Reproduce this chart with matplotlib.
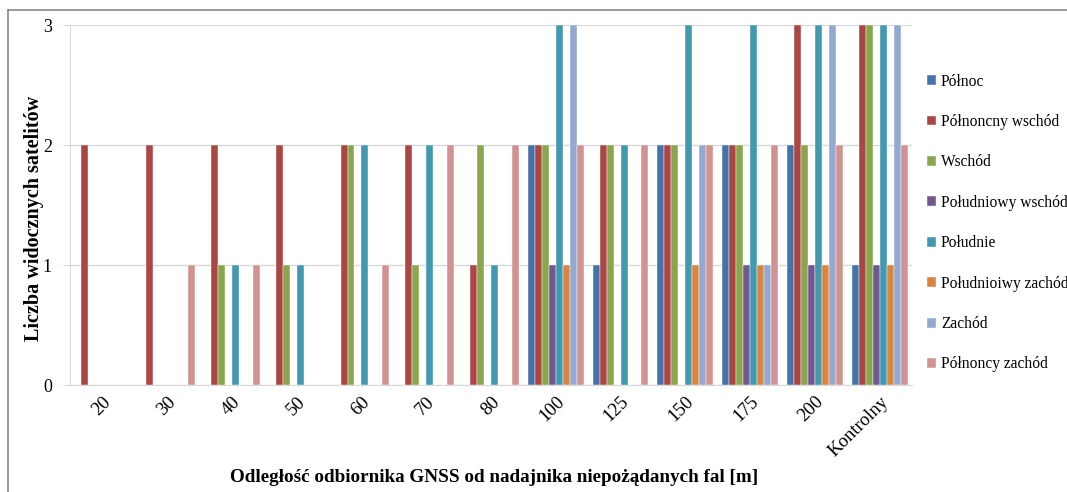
import numpy as np
import matplotlib.pyplot as plt
from matplotlib.lines import Line2D

categories = ['20', '30', '40', '50', '60', '70', '80', '100', '125', '150', '175', '200', 'Kontrolny']
labels = ['Północ', 'Półnoncny wschód', 'Wschód', 'Południowy wschód',
          'Południe', 'Południoiwy zachód', 'Zachód', 'Półnoncy zachód']

polnoc = [0, 0, 0, 0, 0, 0, 0, 2, 1, 2, 2, 2, 1]
polnocny_wschod = [2, 2, 2, 2, 2, 2, 1, 2, 2, 2, 2, 3, 3]
wschod = [0, 0, 1, 1, 2, 1, 2, 2, 2, 2, 2, 2, 3]
poludniowy_wschod = [0, 0, 0, 0, 0, 0, 0, 1, 0, 0, 1, 1, 1]
poludnie = [0, 0, 1, 1, 2, 2, 1, 3, 2, 3, 3, 3, 3]
poludniowy_zachod = [0, 0, 0, 0, 0, 0, 0, 1, 0, 1, 1, 1, 1]
zachod = [0, 0, 0, 0, 0, 0, 0, 3, 0, 2, 1, 3, 3]
polnocny_zachod = [0, 1, 1, 0, 1, 2, 2, 2, 2, 2, 2, 2, 2]

series = [polnoc, polnocny_wschod, wschod, poludniowy_wschod,
          poludnie, poludniowy_zachod, zachod, polnocny_zachod]
colors = ['#4572A7', '#AA4643', '#89A54E', '#71588F',
          '#4198AF', '#DB843D', '#93A9CF', '#D19392']

plt.rcParams['font.family'] = ['Liberation Serif', 'DejaVu Serif']

fig = plt.figure(figsize=(10.67, 4.92), dpi=100)
ax = fig.add_axes([70 / 1067, 1 - 385 / 492, 842 / 1067, 360 / 492])

x = np.arange(len(categories))
w = (1 - 9 / 65) / 8
for i, (vals, name, c) in enumerate(zip(series, labels, colors)):
    ax.bar(x - 4 * w + (i + 0.5) * w, vals, width=w, color=c, label=name,
           edgecolor='white', linewidth=0.3, zorder=3)

ax.set_xlim(-0.5, len(categories) - 0.5)
ax.set_ylim(0, 3)
ax.set_yticks([0, 1, 2, 3])
ax.yaxis.grid(True, color='#d9d9d9', linewidth=1, zorder=0)
for s in ['top', 'right']:
    ax.spines[s].set_visible(False)
for s in ['left', 'bottom']:
    ax.spines[s].set_color('#d9d9d9')
ax.tick_params(axis='y', length=5, color='#d9d9d9', labelsize=13, pad=8)
ax.tick_params(axis='x', length=0, labelsize=13.5, pad=6)
ax.set_xticks(x)
ax.set_xticklabels(categories, rotation=45, ha='right', va='top', rotation_mode='anchor')

fig.text(34 / 1067, 1 - 218 / 492, 'Liczba widocznych satelitów', rotation=90,
         ha='center', va='center', fontsize=14.5, fontweight='bold')
fig.text(494 / 1067, 1 - 478 / 492, 'Odległość odbiornika GNSS od nadajnika niepożądanych fal [m]',
         ha='center', va='center', fontsize=13.8, fontweight='bold')

ax.legend(loc='center left', bbox_to_anchor=(927 / 1067, 1 - 223 / 492),
          bbox_transform=fig.transFigure, frameon=False, fontsize=11.2,
          handlelength=0.6, handleheight=0.6, handletextpad=0.3, labelspacing=1.57,
          borderpad=0, borderaxespad=0)

fig.add_artist(Line2D([8 / 1067, 8 / 1067], [0, 1 - 10 / 492], color='#888888', linewidth=1.2))
fig.add_artist(Line2D([8 / 1067, 1], [1 - 10 / 492, 1 - 10 / 492], color='#888888', linewidth=1.2))

fig.savefig('out.png', dpi=100)
